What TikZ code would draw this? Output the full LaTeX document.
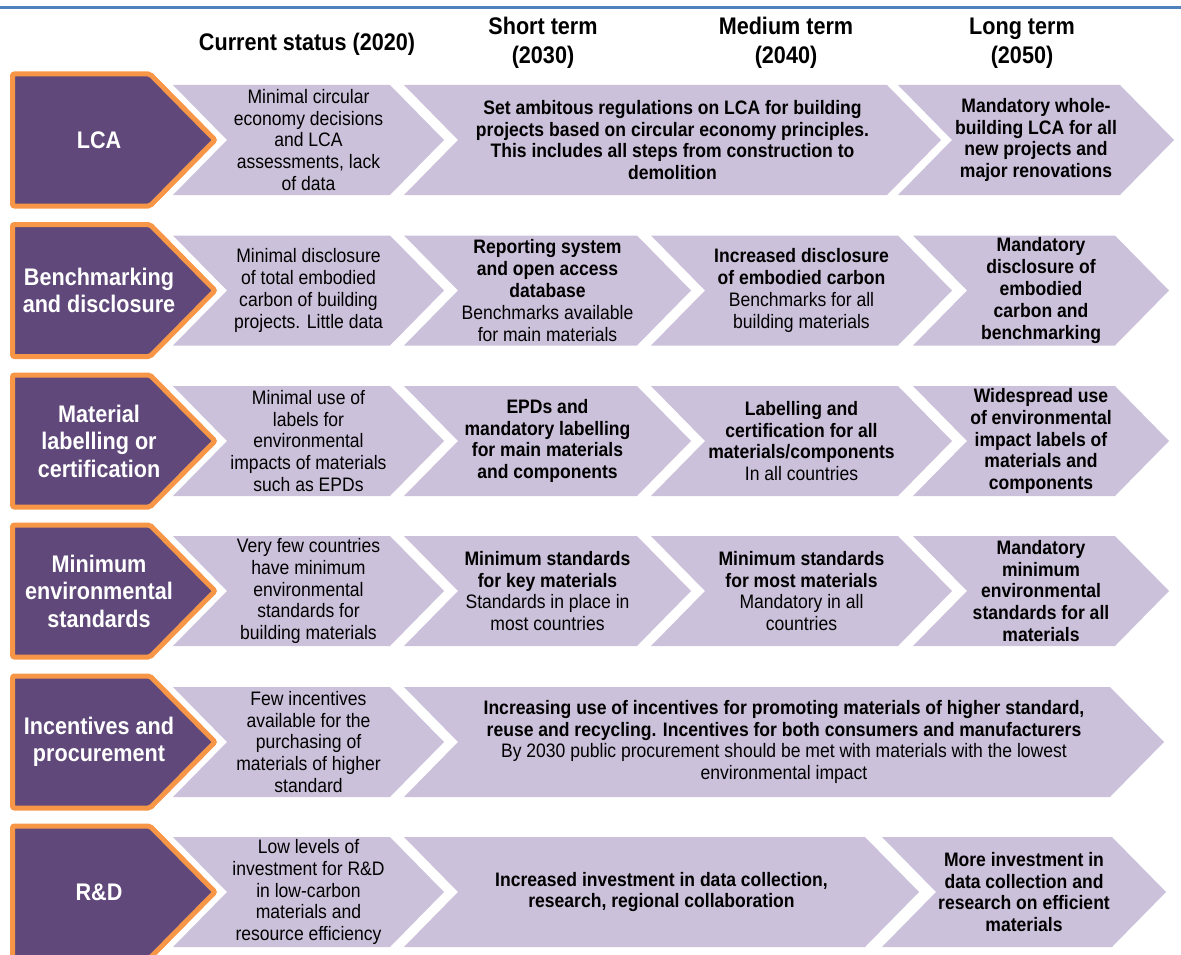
\documentclass[tikz,border=0pt]{standalone}
\usepackage{fontspec}
\setmainfont{Liberation Sans}[FakeStretch=0.9]

\definecolor{rowpurple}{HTML}{60497A}
\definecolor{roworange}{HTML}{F79646}
\definecolor{chevlilac}{HTML}{CCC1DA}
\definecolor{ruleblue}{HTML}{4F81BD}

\tikzset{
  chev/.style={fill=chevlilac},
  topic/.style={fill=rowpurple, draw=roworange, line width=5pt, rounded corners=2pt},
  topictext/.style={text=white, font=\fontsize{24}{27.5}\selectfont\bfseries, align=center, inner sep=0pt},
  cell/.style={font=\fontsize{19.5}{21.8}\selectfont, align=center, inner sep=0pt},
  colhead/.style={font=\fontsize{24}{29}\selectfont\bfseries, align=center, inner sep=0pt}
}

% lilac chevron: left x, right x (top corner), middle y
\newcommand{\chevron}[3]{\fill[chev] ({#1},{#3-55}) -- ({#2},{#3-55}) -- ({#2+54},{#3}) -- ({#2},{#3+55}) -- ({#1},{#3+55}) -- ({#1+54},{#3}) -- cycle;}
% purple topic arrow: middle y
\newcommand{\topicarrow}[1]{\draw[topic] (12.5,{#1-66}) -- (150,{#1-66}) -- (215,{#1}) -- (150,{#1+66}) -- (12.5,{#1+66}) -- cycle;}

\begin{document}
\begin{tikzpicture}[x=1pt, y=-1pt]
\useasboundingbox (0,0) rectangle (1181,955);
\draw[ruleblue, line width=3pt] (0,8) -- (1181,8);

% column heads
\node[colhead] (nowhead) at (307,44) {Current status (2020)};
\node[colhead] (shorthead) at (543,43) {Short term\\(2030)};
\node[colhead] (midhead) at (786,43) {Medium term\\(2040)};
\node[colhead] (longhead) at (1022,43) {Long term\\(2050)};

% LCA
\chevron{173}{390}{140}
\chevron{404}{887}{140}
\chevron{898}{1120}{140}
\topicarrow{140}
\node[topictext] (lca) at (99,140) {LCA};
\node[cell] (lcanow) at (308.5,140) {Minimal circular\\economy decisions\\and LCA\\assessments, lack\\of data};
\node[cell] (lcamid) at (672.5,140) {\textbf{Set ambitous regulations on LCA for building}\\\textbf{projects based on circular economy principles.}\\\textbf{This includes all steps from construction to}\\\textbf{demolition}};
\node[cell] (lcalong) at (1036,140) {\textbf{Mandatory whole-}\\\textbf{building LCA for all}\\\textbf{new projects and}\\\textbf{major renovations}};

% Benchmarking
\chevron{173}{390}{290.5}
\chevron{404}{637}{290.5}
\chevron{651}{898}{290.5}
\chevron{913}{1115}{290.5}
\topicarrow{290.5}
\node[topictext] (bench) at (99,290.5) {Benchmarking\\and disclosure};
\node[cell] (benchnow) at (308.5,290.5) {Minimal disclosure\\of total embodied\\carbon of building\\projects. Little data};
\node[cell] (benchshort) at (547.5,290.5) {\textbf{Reporting system}\\\textbf{and open access}\\\textbf{database}\\Benchmarks available\\for main materials};
\node[cell] (benchmid) at (801.5,290.5) {\textbf{Increased disclosure}\\\textbf{of embodied carbon}\\Benchmarks for all\\building materials};
\node[cell] (benchlong) at (1041,290.5) {\textbf{Mandatory}\\\textbf{disclosure of}\\\textbf{embodied}\\\textbf{carbon and}\\\textbf{benchmarking}};

% Labelling
\chevron{173}{390}{441}
\chevron{404}{637}{441}
\chevron{651}{898}{441}
\chevron{913}{1115}{441}
\topicarrow{441}
\node[topictext] (labels) at (99,441) {Material\\labelling or\\certification};
\node[cell] (labelsnow) at (308.5,441) {Minimal use of\\labels for\\environmental\\impacts of materials\\such as EPDs};
\node[cell] (labelsshort) at (547.5,441) {\textbf{EPDs and}\\\textbf{mandatory labelling}\\\textbf{for main materials}\\\textbf{and components}};
\node[cell] (labelsmid) at (801.5,441) {\textbf{Labelling and}\\\textbf{certification for all}\\\textbf{materials/components}\\In all countries};
\node[cell] (labelslong) at (1041,441) {\textbf{Widespread use}\\\textbf{of environmental}\\\textbf{impact labels of}\\\textbf{materials and}\\\textbf{components}};

% Minimum standards
\chevron{173}{390}{591}
\chevron{404}{637}{591}
\chevron{651}{898}{591}
\chevron{913}{1115}{591}
\topicarrow{591}
\node[topictext] (minstd) at (99,591) {Minimum\\environmental\\standards};
\node[cell] (minstdnow) at (308.5,591) {Very few countries\\have minimum\\environmental\\standards for\\building materials};
\node[cell] (minstdshort) at (547.5,591) {\textbf{Minimum standards}\\\textbf{for key materials}\\Standards in place in\\most countries};
\node[cell] (minstdmid) at (801.5,591) {\textbf{Minimum standards}\\\textbf{for most materials}\\Mandatory in all\\countries};
\node[cell] (minstdlong) at (1041,591) {\textbf{Mandatory}\\\textbf{minimum}\\\textbf{environmental}\\\textbf{standards for all}\\\textbf{materials}};

% Incentives
\chevron{173}{390}{742}
\chevron{404}{1110}{742}
\topicarrow{742}
\node[topictext] (incent) at (99,742) {Incentives and\\procurement};
\node[cell] (incentnow) at (308.5,742) {Few incentives\\available for the\\purchasing of\\materials of higher\\standard};
\node[cell] (incentlater) at (784,742) {\textbf{Increasing use of incentives for promoting materials of higher standard,}\\\textbf{reuse and recycling. Incentives for both consumers and manufacturers}\\By 2030 public procurement should be met with materials with the lowest\\environmental impact};

% R&D
\chevron{173}{390}{892}
\chevron{404}{865}{892}
\chevron{882}{1112}{892}
\topicarrow{892}
\node[topictext] (rnd) at (99,892) {R\&D};
\node[cell] (rndnow) at (308.5,892) {Low levels of\\investment for R\&D\\in low-carbon\\materials and\\resource efficiency};
\node[cell] (rndmid) at (661.5,892) {\textbf{Increased investment in data collection,}\\\textbf{research, regional collaboration}};
\node[cell] (rndlong) at (1024,892) {\textbf{More investment in}\\\textbf{data collection and}\\\textbf{research on efficient}\\\textbf{materials}};
\end{tikzpicture}
\end{document}
